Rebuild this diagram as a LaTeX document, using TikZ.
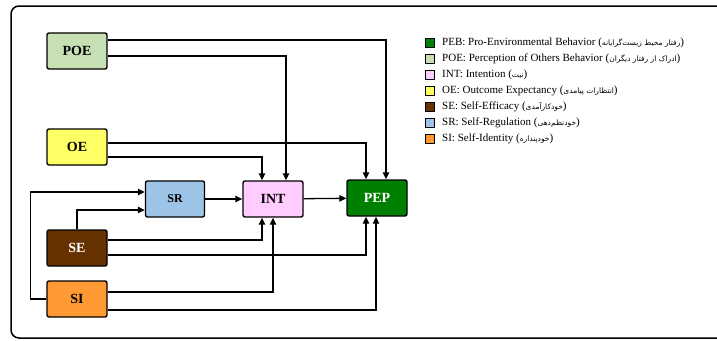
\documentclass[tikz,border=0pt]{standalone}
\usepackage{fontspec}
\setmainfont{Liberation Serif}
\newfontfamily\arabicfont[Script=Arabic]{DejaVu Sans}
\TeXXeTstate=1
\usetikzlibrary{arrows.meta,calc}
\definecolor{cpoe}{RGB}{198,224,180}
\definecolor{coe}{RGB}{255,255,102}
\definecolor{csr}{RGB}{157,195,230}
\definecolor{cint}{RGB}{255,204,255}
\definecolor{cpep}{RGB}{0,128,0}
\definecolor{cse}{RGB}{102,51,0}
\definecolor{csi}{RGB}{255,153,51}
\newcommand{\fa}[1]{{\arabicfont\fontsize{7.5}{9}\selectfont\beginR #1\endR}}
\begin{document}
\begin{tikzpicture}[x=1pt,y=-1pt,
  box/.style={draw, line width=1.4pt, rounded corners=2pt, minimum width=60pt, minimum height=36pt, inner sep=0pt, font=\bfseries\fontsize{14}{14}\selectfont},
  arr/.style={line width=1.3pt, -{Triangle[length=7pt,width=6.5pt]}},
  lsq/.style={draw, line width=1.2pt, minimum width=8.5pt, minimum height=8.5pt, inner sep=0pt},
  ltx/.style={anchor=west, inner sep=0pt, font=\fontsize{11}{12}\selectfont}]
\useasboundingbox (0,0) rectangle (717,340);
\draw[line width=1.5pt, rounded corners=8pt] (11,6) rectangle (740,338);

\node[box, fill=cpoe] (POE) at (77,51) {POE};
\node[box, fill=coe] (OE) at (77,147) {OE};
\node[box, fill=csr, minimum width=59pt, font=\bfseries\fontsize{12}{12}\selectfont] (SR) at (175,199) {SR};
\node[box, fill=cint] (INT) at (273,199) {INT};
\node[box, fill=cpep, text=white] (PEP) at (377,198) {PEP};
\node[box, fill=cse, text=white] (SE) at (77,248) {SE};
\node[box, fill=csi] (SI) at (77,299) {SI};

\draw[arr] ($(POE.east)+(0,-11)$) -| ($(PEP.north)+(9,0)$);
\draw[arr] ($(POE.east)+(0,5)$) -| ($(INT.north)+(13,0)$);
\draw[arr] ($(OE.east)+(0,-4)$) -| ($(PEP.north)+(-11,0)$);
\draw[arr] ($(OE.east)+(0,10)$) -| ($(INT.north)+(-11,0)$);
\draw[arr] (SR) -- (INT);
\draw[arr] (INT) -- (PEP);
\draw[arr] (SE.north) |- ($(SR.west)+(0,11)$);
\draw[arr] (SI.west) -- ++(-16,0) |- ($(SR.west)+(0,-7)$);
\draw[arr] ($(SE.east)+(0,-8)$) -| ($(INT.south)+(-11,0)$);
\draw[arr] ($(SE.east)+(0,7)$) -| ($(PEP.south)+(-11,0)$);
\draw[arr] ($(SI.east)+(0,-7)$) -| ($(INT.south)+(0,0)$);
\draw[arr] ($(SI.east)+(0,11)$) -| ($(PEP.south)+(-1,0)$);

\node[lsq, fill=cpep] (l1) at (430,43) {};
\node[lsq, fill=cpoe] (l2) at (430,59) {};
\node[lsq, fill=cint] (l3) at (430,75) {};
\node[lsq, fill=coe] (l4) at (430,91) {};
\node[lsq, fill=cse] (l5) at (430,107) {};
\node[lsq, fill=csr] (l6) at (430,123) {};
\node[lsq, fill=csi] (l7) at (430,139) {};
\node[ltx] (t1) at (442,43) {PEB: Pro-Environmental Behavior (\fa{رفتار محیط زیست‌گرایانه})};
\node[ltx] (t2) at (442,59) {POE: Perception of Others Behavior (\fa{ادراک از رفتار دیگران})};
\node[ltx] (t3) at (442,75) {INT: Intention (\fa{نیت})};
\node[ltx] (t4) at (442,91) {OE: Outcome Expectancy (\fa{انتظارات پیامدی})};
\node[ltx] (t5) at (442,107) {SE: Self-Efficacy (\fa{خودکارآمدی})};
\node[ltx] (t6) at (442,123) {SR: Self-Regulation (\fa{خودنظم‌دهی})};
\node[ltx] (t7) at (442,139) {SI: Self-Identity (\fa{خودپنداره})};
\end{tikzpicture}
\end{document}
